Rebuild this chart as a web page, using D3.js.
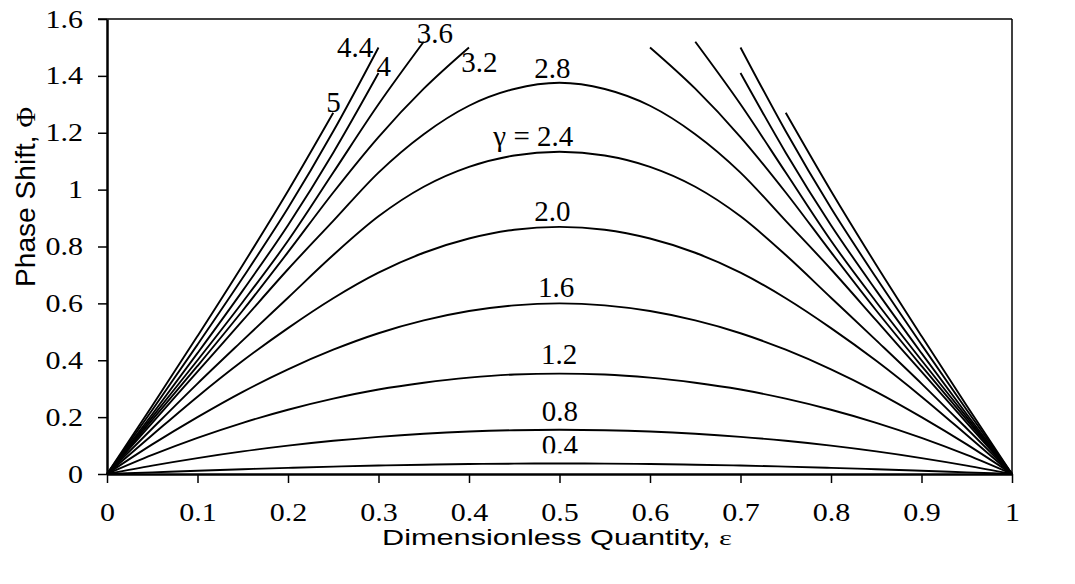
<!DOCTYPE html>
<html>
<head>
<meta charset="utf-8">
<script src="https://cdn.jsdelivr.net/npm/d3@7"></script>
<style>
  body { margin: 0; background: #fff; }
  svg { display: block; }
  .tick text { font-family: "Liberation Serif", "Times New Roman", serif; font-size: 25px; fill: #000; }
  .clabel { font-family: "Liberation Serif", "Times New Roman", serif; font-size: 29px; fill: #000; }
  .title { font-family: "Liberation Sans", Arial, sans-serif; fill: #000; }
</style>
</head>
<body>
<div class="chart"></div>
<script>
// x positions (dimensionless quantity, epsilon)
const eps = [0, 0.05, 0.1, 0.15, 0.2, 0.25, 0.3, 0.35, 0.4, 0.45, 0.5,
  0.55, 0.6, 0.65, 0.7, 0.75, 0.8, 0.85, 0.9, 0.95, 1];

// phase shift for each gamma (null = not drawn)
const g04 = [0, 0.0058, 0.0115, 0.0168, 0.0217, 0.026, 0.0297, 0.0327, 0.035, 0.0364, 0.0368,
  0.0364, 0.035, 0.0327, 0.0297, 0.026, 0.0217, 0.0168, 0.0115, 0.0058, 0];
const g08 = [0, 0.0296, 0.056, 0.0794, 0.0996, 0.1167, 0.1307, 0.1416, 0.1494, 0.154, 0.1556,
  0.154, 0.1494, 0.1416, 0.1307, 0.1167, 0.0996, 0.0794, 0.056, 0.0296, 0];
const g12 = [0, 0.067, 0.127, 0.18, 0.226, 0.265, 0.297, 0.321, 0.339, 0.35, 0.353,
  0.35, 0.339, 0.321, 0.297, 0.265, 0.226, 0.18, 0.127, 0.067, 0];
const g16 = [0, 0.104, 0.2, 0.289, 0.368, 0.437, 0.495, 0.54, 0.573, 0.593, 0.6,
  0.593, 0.573, 0.54, 0.495, 0.437, 0.368, 0.289, 0.2, 0.104, 0];
const g20 = [0, 0.137, 0.272, 0.398, 0.513, 0.618, 0.708, 0.778, 0.828, 0.859, 0.869,
  0.859, 0.828, 0.778, 0.708, 0.618, 0.513, 0.398, 0.272, 0.137, 0];
const g24 = [0, 0.16, 0.318, 0.47, 0.62, 0.77, 0.906, 1.01, 1.08, 1.12, 1.133,
  1.12, 1.08, 1.01, 0.906, 0.77, 0.62, 0.47, 0.318, 0.16, 0];
const g28 = [0, 0.18, 0.36, 0.54, 0.72, 0.89, 1.06, 1.195, 1.295, 1.354, 1.376,
  1.354, 1.295, 1.195, 1.06, 0.89, 0.72, 0.54, 0.36, 0.18, 0];
const g32 = [0, 0.19, 0.38, 0.575, 0.78, 0.99, 1.185, 1.355, 1.5, null, null,
  null, 1.5, 1.355, 1.185, 0.99, 0.78, 0.575, 0.38, 0.19, 0];
const g36 = [0, 0.2, 0.4, 0.605, 0.82, 1.06, 1.3, 1.52, null, null, null,
  null, null, 1.52, 1.3, 1.06, 0.82, 0.605, 0.4, 0.2, 0];
const g40 = [0, 0.21, 0.425, 0.645, 0.875, 1.13, 1.41, null, null, null, null,
  null, null, null, 1.41, 1.13, 0.875, 0.645, 0.425, 0.21, 0];
const g44 = [0, 0.225, 0.455, 0.69, 0.935, 1.205, 1.5, null, null, null, null,
  null, null, null, 1.5, 1.205, 0.935, 0.69, 0.455, 0.225, 0];
const g50 = [0, 0.24, 0.485, 0.735, 0.995, 1.27, null, null, null, null, null,
  null, null, null, null, 1.27, 0.995, 0.735, 0.485, 0.24, 0];

const series = [g04, g08, g12, g16, g20, g24, g28, g32, g36, g40, g44, g50];

// curve labels, placed in data units (epsilon, phi of the baseline)
const labelText = ["0.4", "0.8", "1.2", "1.6", "2.0", "\u03b3 = 2.4", "2.8", "3.2", "3.6", "4", "4.4", "5"];
const labelEps = [0.5005, 0.5005, 0.4995, 0.4963, 0.4921, 0.5152, 0.4921, 0.4115, 0.3623, 0.3058, 0.2743, 0.2503];
const labelPhi = [0.0667, 0.187, 0.387, 0.623, 0.89, 1.153, 1.393, 1.413, 1.517, 1.4, 1.467, 1.273];

// ticks
const xTicks = [0, 0.1, 0.2, 0.3, 0.4, 0.5, 0.6, 0.7, 0.8, 0.9, 1];
const xTickLabels = ["0", "0.1", "0.2", "0.3", "0.4", "0.5", "0.6", "0.7", "0.8", "0.9", "1"];
const yTicks = [0, 0.2, 0.4, 0.6, 0.8, 1, 1.2, 1.4, 1.6];
const yTickLabels = ["0", "0.2", "0.4", "0.6", "0.8", "1", "1.2", "1.4", "1.6"];

const W = 1075, H = 584;
const margin = { top: 19, left: 107, right: 63, bottom: 110 };
const width = W - margin.left - margin.right,
  height = H - margin.top - margin.bottom;
const stretch = 1.2; // text in the original is a bit wide

const svg = d3.select(".chart").append("svg")
  .attr("width", W)
  .attr("height", H);

const g = svg.append("g")
  .attr("transform", `translate(${margin.left},${margin.top})`);

const x = d3.scaleLinear().domain([0, 1]).range([0, width]);
const y = d3.scaleLinear().domain([0, 1.6]).range([height, 0]);

// frame (top and right)
g.append("line").attr("x1", -9).attr("x2", width).attr("y1", 0).attr("y2", 0)
  .attr("stroke", "#000").attr("stroke-width", 1.5);
g.append("line").attr("x1", width).attr("x2", width).attr("y1", 0).attr("y2", height)
  .attr("stroke", "#000").attr("stroke-width", 1.5);

// curves
const line = d3.line()
  .defined((d) => d[1] !== null)
  .x((d) => x(d[0]))
  .y((d) => y(d[1]))
  .curve(d3.curveMonotoneX);

series.forEach((s) => {
  g.append("path")
    .datum(eps.map((e, i) => [e, s[i]]))
    .attr("fill", "none")
    .attr("stroke", "#000")
    .attr("stroke-width", 1.9)
    .attr("d", line);
});

// axes
const xAxis = d3.axisBottom(x)
  .tickValues(xTicks)
  .tickFormat((d, i) => xTickLabels[i])
  .tickSize(9)
  .tickSizeOuter(0)
  .tickPadding(20);
const yAxis = d3.axisLeft(y)
  .tickValues(yTicks)
  .tickFormat((d, i) => yTickLabels[i])
  .tickSize(9)
  .tickSizeOuter(0)
  .tickPadding(15);

const gx = g.append("g").attr("transform", `translate(0,${height})`).call(xAxis);
const gy = g.append("g").call(yAxis);
[gx, gy].forEach((a) => {
  a.select(".domain").attr("stroke", "#000").attr("stroke-width", 2.5);
  a.selectAll(".tick line").attr("stroke", "#000").attr("stroke-width", 1.5);
  a.selectAll(".tick text").attr("transform", `scale(${stretch},1)`);
});
gy.selectAll(".tick text").attr("x", -24 / stretch);

// curve labels
svg.append("defs").append("clipPath").attr("id", "lowclip")
  .append("rect").attr("x", 0).attr("y", 0).attr("width", width).attr("height", y(0.0733));

labelText.forEach((t, i) => {
  const txt = g.append("text")
    .attr("class", "clabel")
    .attr("x", x(labelEps[i]))
    .attr("y", y(labelPhi[i]))
    .attr("text-anchor", t.startsWith("\u03b3") ? "end" : "middle")
    .text(t);
  if (i === 0) txt.attr("clip-path", "url(#lowclip)");
});

// axis titles
const xt = svg.append("text")
  .attr("class", "title")
  .style("font-size", "22px")
  .attr("x", 557)
  .attr("y", 545)
  .attr("text-anchor", "middle")
  .attr("textLength", 350)
  .attr("lengthAdjust", "spacingAndGlyphs");
xt.append("tspan").text("Dimensionless Quantity, ");
xt.append("tspan").style("font-family", "'Liberation Serif', serif").text("\u03b5");

const yt = svg.append("text")
  .attr("class", "title")
  .style("font-size", "28px")
  .attr("transform", "translate(35,197) rotate(-90)")
  .attr("text-anchor", "middle")
  .attr("textLength", 180)
  .attr("lengthAdjust", "spacingAndGlyphs");
yt.append("tspan").text("Phase Shift, ");
yt.append("tspan").style("font-family", "'Liberation Serif', serif").text("\u03a6");
</script>
</body>
</html>
